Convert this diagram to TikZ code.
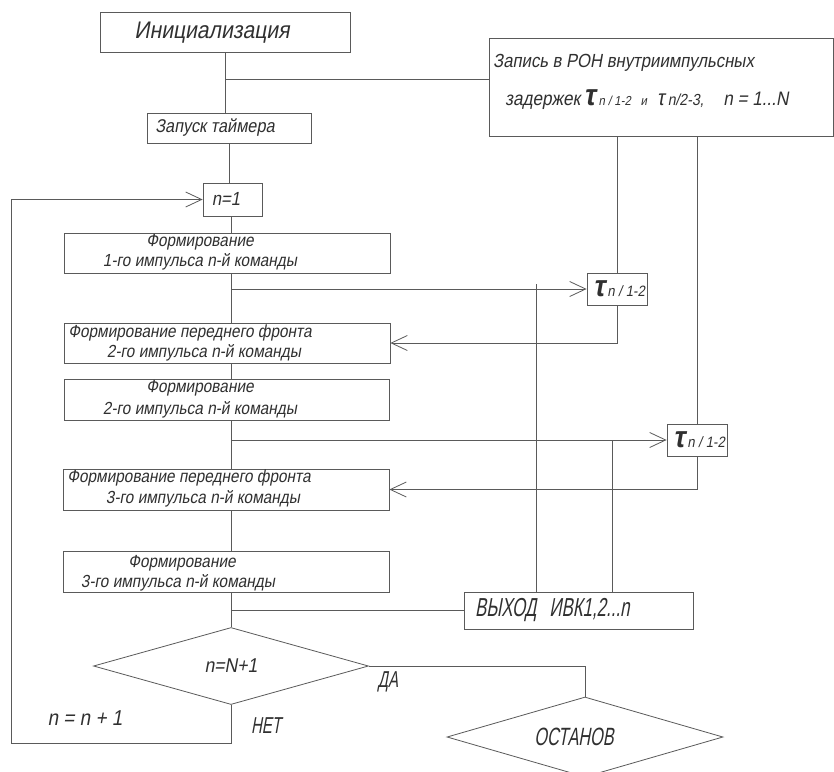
\documentclass[tikz,border=0pt]{standalone}
\usepackage{fontspec}
\usetikzlibrary{arrows.meta,shapes.geometric}
\newfontfamily\gost{Liberation Sans}[FakeSlant=0.18,FakeStretch=0.88]
\newfontfamily\gostc{Liberation Sans}[FakeSlant=0.18,FakeStretch=0.65]
\definecolor{lnc}{HTML}{5A5A5A}
\definecolor{txc}{HTML}{303030}
\newcommand{\fsz}[1]{\fontsize{#1}{#1}\selectfont}
\tikzset{
  box/.style={draw=lnc, line width=0.8pt, rectangle, inner sep=0pt},
  dia/.style={draw=lnc, line width=0.8pt, diamond, inner sep=0pt, text=txc},
  ln/.style={draw=lnc, line width=0.8pt},
  arr/.style={ln, -{Straight Barb[length=16pt,width=15pt,line width=0.8pt]}},
  t/.style={inner sep=0pt, text=txc, font=\gost\fsz{17.5}},
}
\begin{document}
\begin{tikzpicture}[x=1pt,y=-1pt]
\useasboundingbox (0,0) rectangle (834,771);
\fill[white] (0,0) rectangle (834,771);
% boxes
\node[box, minimum width=250pt, minimum height=40pt] (init) at (225,32) {};
\node[box, minimum width=344pt, minimum height=98pt] (rec) at (661,87) {};
\node[box, minimum width=164pt, minimum height=30pt] (timer) at (229,128) {};
\node[box, minimum width=59pt, minimum height=33pt] (n1) at (232.5,199.5) {};
\node[box, minimum width=326pt, minimum height=40pt] (b1) at (227,253) {};
\node[box, minimum width=326pt, minimum height=40pt] (b2) at (227,343) {};
\node[box, minimum width=325pt, minimum height=41pt] (b3) at (226.5,399.5) {};
\node[box, minimum width=326pt, minimum height=41pt] (b4) at (226,489.5) {};
\node[box, minimum width=326pt, minimum height=41pt] (b5) at (226,571.5) {};
\node[box, minimum width=60pt, minimum height=32pt] (tau1) at (617,289) {};
\node[box, minimum width=60pt, minimum height=32pt] (tau2) at (697,440) {};
\node[box, minimum width=229pt, minimum height=37pt] (vyh) at (578.5,610.5) {};
\node[dia, minimum width=275pt, minimum height=77pt, font=\gost\fsz{20}] (d1) at (231,666) {n=N+1};
\node[dia, minimum width=276pt, minimum height=80pt] (stop) at (585,737) {};
% texts
\node[t, font=\gost\fsz{24}] (tinit) at (212,33) {Инициализация};
\node[t, anchor=west, font=\gost\fsz{19}] (trec1) at (493,63) {Запись в РОН внутриимпульсных};
\node[t, anchor=west, font=\gost\fsz{19.5}] (trec2) at (505,100) {задержек\,{\fsz{30}\bfseries τ}\,{\fsz{13}n / 1-2}\enspace{\fsz{13}и}\enspace{\fsz{22}τ}\,{\fsz{16}n/2-3,}\quad n = 1...N};
\node[t, font=\gost\fsz{18.5}] (ttimer) at (215,128) {Запуск таймера};
\node[t, font=\gost\fsz{19}] (tn1) at (226,199) {n=1};
\node[t] (tb1a) at (200,242) {Формирование};
\node[t] (tb1b) at (200,262) {1-го импульса n-й команды};
\node[t] (tb2a) at (190,333) {Формирование переднего фронта};
\node[t] (tb2b) at (204,353) {2-го импульса n-й команды};
\node[t] (tb3a) at (200,388) {Формирование};
\node[t] (tb3b) at (200,410) {2-го импульса n-й команды};
\node[t] (tb4a) at (189,478) {Формирование переднего фронта};
\node[t] (tb4b) at (203,499) {3-го импульса n-й команды};
\node[t] (tb5a) at (182,563) {Формирование};
\node[t] (tb5b) at (178,583) {3-го импульса n-й команды};
\node[t, font=\gost\fsz{15}] (ttau1) at (619,289) {{\fsz{30}\bfseries τ}\,n / 1-2};
\node[t, font=\gost\fsz{15}] (ttau2) at (699,440) {{\fsz{30}\bfseries τ}\,n / 1-2};
\node[t, anchor=west, font=\gostc\fsz{26}] (tvyh) at (475,610) {ВЫХОД\enspace ИВК1,2...n};
\node[t, font=\gostc\fsz{25}] (tstop) at (574,737) {ОСТАНОВ};
\node[t, font=\gostc\fsz{23}] (tda) at (388,682) {ДА};
\node[t, font=\gostc\fsz{23}] (tnet) at (266,726) {НЕТ};
\node[t, font=\gost\fsz{21.5}] (tinc) at (85,718) {n = n + 1};
% connectors
\coordinate (fx) at (231,0);
\coordinate (j0) at (225,79);
\coordinate (j1) at (231,289);
\coordinate (j2) at (231,440);
\coordinate (j3) at (231,610.5);
\coordinate (c1) at (536,284);
\coordinate (c2) at (612,440);
\coordinate (lb) at (11,743);
\draw[ln] (init.south) -- (init.south |- timer.north);
\draw[ln] (j0) -- (j0 -| rec.west);
\draw[ln] (timer.south) -- (timer.south |- n1.north);
\draw[ln] (n1.south -| fx) -- (b1.north -| fx);
\draw[ln] (b1.south -| fx) -- (b2.north -| fx);
\draw[arr] (j1) -- (tau1.west);
\draw[ln] (b2.south -| fx) -- (b3.north -| fx);
\draw[ln] (b3.south -| fx) -- (b4.north -| fx);
\draw[arr] (j2) -- (tau2.west);
\draw[ln] (b4.south -| fx) -- (b5.north -| fx);
\draw[ln] (b5.south -| fx) -- (d1.north);
\draw[ln] (j3) -- (vyh.west);
\draw[ln] (rec.south -| tau1.north) -- (tau1.north);
\draw[ln] (rec.south -| tau2.north) -- (tau2.north);
\draw[arr] (tau1.south) |- (b2.east);
\draw[arr] (tau2.south) |- (b4.east);
\draw[ln] (c1) -- (c1 |- vyh.north);
\draw[ln] (c2) -- (c2 |- vyh.north);
\draw[ln] (d1.east) -| (stop.north);
\draw[arr] (d1.south) |- (lb) |- (n1.west);
\end{tikzpicture}
\end{document}
